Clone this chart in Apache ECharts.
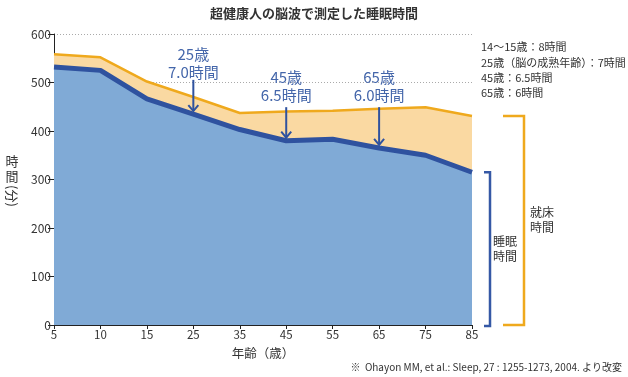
<!DOCTYPE html>
<html><head><meta charset="utf-8">
<script src="https://cdn.jsdelivr.net/npm/echarts@6/dist/echarts.min.js"></script>
<style>html,body{margin:0;padding:0;background:#fff}#c{width:628px;height:377px}</style>
</head><body><div id="c"></div>
<script>
const categories = ['5','10','15','25','35','45','55','65','75','85'];
const bedTime   = [558, 552, 502, 470, 437, 440, 442, 446, 449, 431];
const sleepTime = [532, 525, 466, 435, 403, 380, 383, 365, 350, 315];
const yTicks = [0, 100, 200, 300, 400, 500, 600];
const notes = [
  {age: '25', line1: '25歳', line2: '7.0時間', textVal: 559},
  {age: '45', line1: '45歳', line2: '6.5時間', textVal: 511},
  {age: '65', line1: '65歳', line2: '6.0時間', textVal: 511}
];
const infoLines = ['14〜15歳：8時間', '25歳（脳の成熟年齢）：7時間', '45歳：6.5時間', '65歳：6時間'];

const FONT = '"Noto Sans CJK JP", "Liberation Sans", sans-serif';
const TXT = '#333';
const BLUE_LINE = '#2f529f';
const BLUE_FILL = '#80aad6';
const OR_LINE = '#efa91d';
const OR_FILL = '#fad9a2';
const NOTE = '#4466aa';

const chart = echarts.init(document.getElementById('c'), null, {renderer: 'canvas'});
chart.setOption({
  animation: false,
  textStyle: {fontFamily: FONT},
  grid: {left: 54, right: 156, top: 34, bottom: 52},
  xAxis: {
    type: 'category', data: categories, boundaryGap: false,
    name: '年齢（歳）', nameLocation: 'middle', nameGap: 22,
    nameTextStyle: {color: TXT, fontSize: 12.5, fontFamily: FONT},
    axisLine: {lineStyle: {color: '#222', width: 1}},
    axisTick: {show: true, length: 4, lineStyle: {color: '#222'}},
    axisLabel: {color: TXT, fontSize: 11.5, margin: 4, fontFamily: FONT},
    splitLine: {show: false}
  },
  yAxis: {
    type: 'value', min: yTicks[0], max: yTicks[yTicks.length - 1], interval: 100,
    axisLine: {show: true, lineStyle: {color: '#222', width: 1}},
    axisTick: {show: true, length: 6, lineStyle: {color: '#222'}},
    axisLabel: {color: TXT, fontSize: 12, margin: 3, fontFamily: FONT},
    splitLine: {show: true, lineStyle: {color: '#aaa', type: [1, 2], width: 1}}
  },
  series: [
    {type: 'line', data: bedTime, symbol: 'none', z: 2,
     lineStyle: {color: OR_LINE, width: 2.5}, areaStyle: {color: OR_FILL, opacity: 1}},
    {type: 'line', data: sleepTime, symbol: 'none', z: 3,
     lineStyle: {color: BLUE_LINE, width: 5}, areaStyle: {color: BLUE_FILL, opacity: 1}}
  ]
});

const g = [];
// title
g.push({type: 'text', left: 'center', top: 7, style: {text: '超健康人の脳波で測定した睡眠時間', font: 'bold 13px ' + FONT, fill: TXT}});
// y axis name
g.push({type: 'text', x: 12, y: 169, style: {text: '時\n間', font: '13px ' + FONT, fill: TXT, align: 'center', verticalAlign: 'middle', lineHeight: 15}});
g.push({type: 'text', x: 12, y: 196, rotation: -Math.PI / 2, style: {text: '(分)', font: '13px ' + FONT, fill: TXT, align: 'center', verticalAlign: 'middle'}});
// info lines
infoLines.forEach((t, i) => {
  g.push({type: 'text', x: 481, y: 47 + i * 15.4, style: {text: t, font: '11px ' + FONT, fill: TXT, verticalAlign: 'middle'}});
});
// footnote
g.push({type: 'text', right: 6, top: 362, style: {text: '※  Ohayon MM, et al.: Sleep, 27 : 1255-1273, 2004. より改変', font: '10px ' + FONT, fill: TXT}});

// annotations
notes.forEach(n => {
  const idx = categories.indexOf(n.age);
  const p = chart.convertToPixel({gridIndex: 0}, [n.age, n.textVal]);
  const tip = chart.convertToPixel({gridIndex: 0}, [n.age, sleepTime[idx]]);
  g.push({type: 'text', x: p[0], y: p[1], style: {text: n.line1, font: '15px ' + FONT, fill: NOTE, align: 'center', verticalAlign: 'middle'}});
  g.push({type: 'text', x: p[0], y: p[1] + 18, style: {text: n.line2, font: '15px ' + FONT, fill: NOTE, align: 'center', verticalAlign: 'middle'}});
  const y0 = p[1] + 26 + (n.age === '25' ? 0 : 4);
  const y1 = tip[1] - 3;
  g.push({type: 'line', shape: {x1: tip[0], y1: y0, x2: tip[0], y2: y1}, style: {stroke: BLUE_LINE, lineWidth: 2}, z: 10});
  g.push({type: 'polyline', shape: {points: [[tip[0] - 5, y1 - 6], [tip[0], y1], [tip[0] + 5, y1 - 6]]}, style: {stroke: BLUE_LINE, lineWidth: 2, fill: null}, z: 10});
});

// brackets
const last = categories.length - 1;
const base = chart.convertToPixel({gridIndex: 0}, [categories[last], 0]);
const sTop = chart.convertToPixel({gridIndex: 0}, [categories[last], sleepTime[last]]);
const bTop = chart.convertToPixel({gridIndex: 0}, [categories[last], bedTime[last]]);
const bx = base[0] + 18, ox = base[0] + 52;
g.push({type: 'polyline', shape: {points: [[bx - 6, sTop[1]], [bx, sTop[1]], [bx, base[1] + 1], [bx - 6, base[1] + 1]]}, style: {stroke: '#3558a5', lineWidth: 2.5, fill: null}});
g.push({type: 'polyline', shape: {points: [[ox - 21, bTop[1]], [ox, bTop[1]], [ox, base[1]], [ox - 21, base[1]]]}, style: {stroke: OR_LINE, lineWidth: 2.5, fill: null}});
g.push({type: 'text', x: bx + 3, y: 249, style: {text: '睡眠\n時間', font: '12px ' + FONT, fill: TXT, verticalAlign: 'middle', lineHeight: 15}});
g.push({type: 'text', x: ox + 6, y: 220, style: {text: '就床\n時間', font: '12px ' + FONT, fill: TXT, verticalAlign: 'middle', lineHeight: 15}});

chart.setOption({graphic: g});
</script></body></html>
